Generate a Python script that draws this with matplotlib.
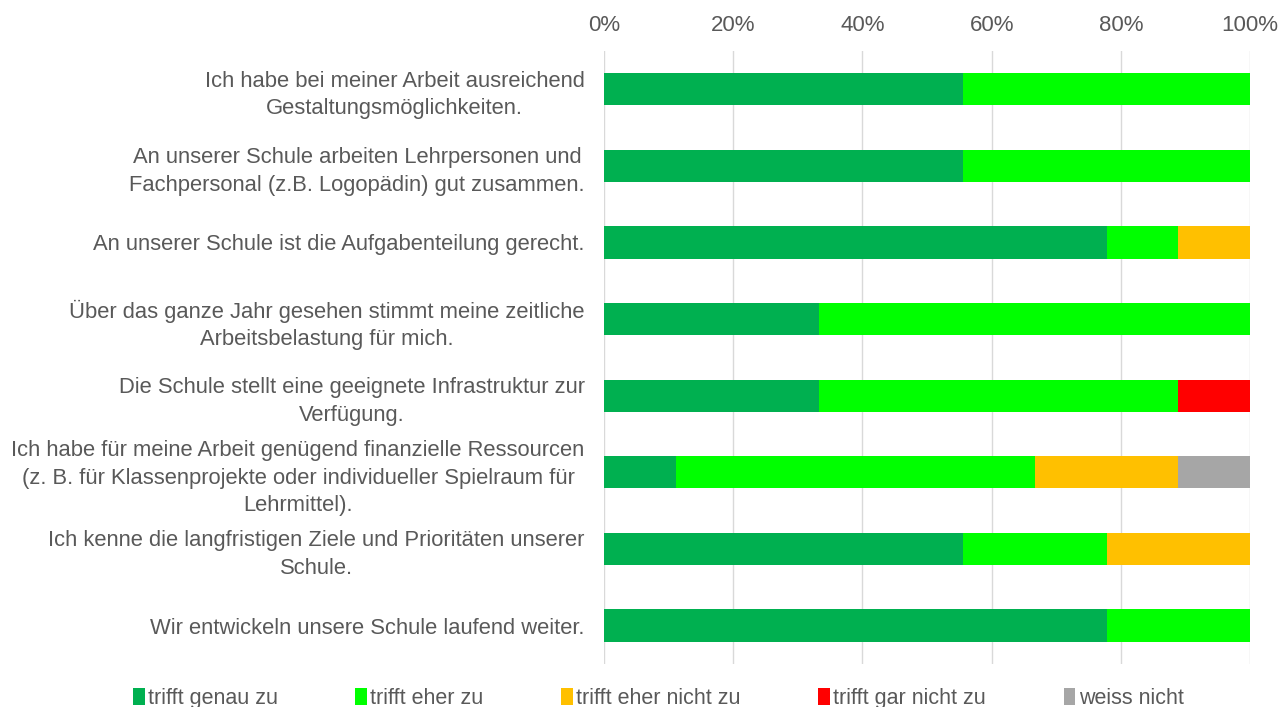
import matplotlib.pyplot as plt
import numpy as np

plt.rcParams['font.family'] = ['Liberation Sans', 'DejaVu Sans']

labels = [
    "Ich habe bei meiner Arbeit ausreichend\nGestaltungsmöglichkeiten.",
    "An unserer Schule arbeiten Lehrpersonen und\nFachpersonal (z.B. Logopädin) gut zusammen.",
    "An unserer Schule ist die Aufgabenteilung gerecht.",
    "Über das ganze Jahr gesehen stimmt meine zeitliche\nArbeitsbelastung für mich.",
    "Die Schule stellt eine geeignete Infrastruktur zur\nVerfügung.",
    "Ich habe für meine Arbeit genügend finanzielle Ressourcen\n(z. B. für Klassenprojekte oder individueller Spielraum für\nLehrmittel).",
    "Ich kenne die langfristigen Ziele und Prioritäten unserer\nSchule.",
    "Wir entwickeln unsere Schule laufend weiter.",
]

series_names = ["trifft genau zu", "trifft eher zu", "trifft eher nicht zu",
                "trifft gar nicht zu", "weiss nicht"]
colors = ["#00B050", "#00FF00", "#FFC000", "#FF0000", "#A6A6A6"]

# Anteile in Prozent
genau_zu = [55.6, 55.6, 77.8, 33.3, 33.3, 11.1, 55.6, 77.8]
eher_zu = [44.4, 44.4, 11.1, 66.7, 55.6, 55.6, 22.2, 22.2]
eher_nicht_zu = [0, 0, 11.1, 0, 0, 22.2, 22.2, 0]
gar_nicht_zu = [0, 0, 0, 0, 11.1, 0, 0, 0]
weiss_nicht = [0, 0, 0, 0, 0, 11.1, 0, 0]

data = [genau_zu, eher_zu, eher_nicht_zu, gar_nicht_zu, weiss_nicht]

fig = plt.figure(figsize=(12.88, 7.07), dpi=100)
ax = fig.add_axes([0.469, 0.061, 0.5016, 0.867])

y = np.arange(len(labels))
left = np.zeros(len(labels))
for name, vals, c in zip(series_names, data, colors):
    ax.barh(y, vals, left=left, height=0.42, color=c, label=name, zorder=3)
    left += np.array(vals)

ax.set_xlim(0, 100)
ax.set_ylim(len(labels) - 0.5, -0.5)
ax.set_xticks(np.arange(0, 101, 20))
ax.set_xticklabels([f"{v}%" for v in range(0, 101, 20)])
ax.xaxis.tick_top()
ax.set_yticks(y)
ax.set_yticklabels(labels, multialignment='center', linespacing=1.4)
ax.tick_params(axis='x', length=0, labelsize=16, labelcolor='#595959', pad=11)
ax.tick_params(axis='y', length=0, labelsize=15.8, labelcolor='#595959', pad=14)
ax.grid(axis='x', color='#D9D9D9', linewidth=1, zorder=0)
for s in ax.spines.values():
    s.set_visible(False)

fig.legend(loc='lower center', bbox_to_anchor=(0.511, -0.03), ncol=5,
           frameon=False, fontsize=15.5, labelcolor='#595959',
           handlelength=0.55, handleheight=0.85, handletextpad=0.15,
           columnspacing=3.6)

fig.savefig('out.png', dpi=100)
